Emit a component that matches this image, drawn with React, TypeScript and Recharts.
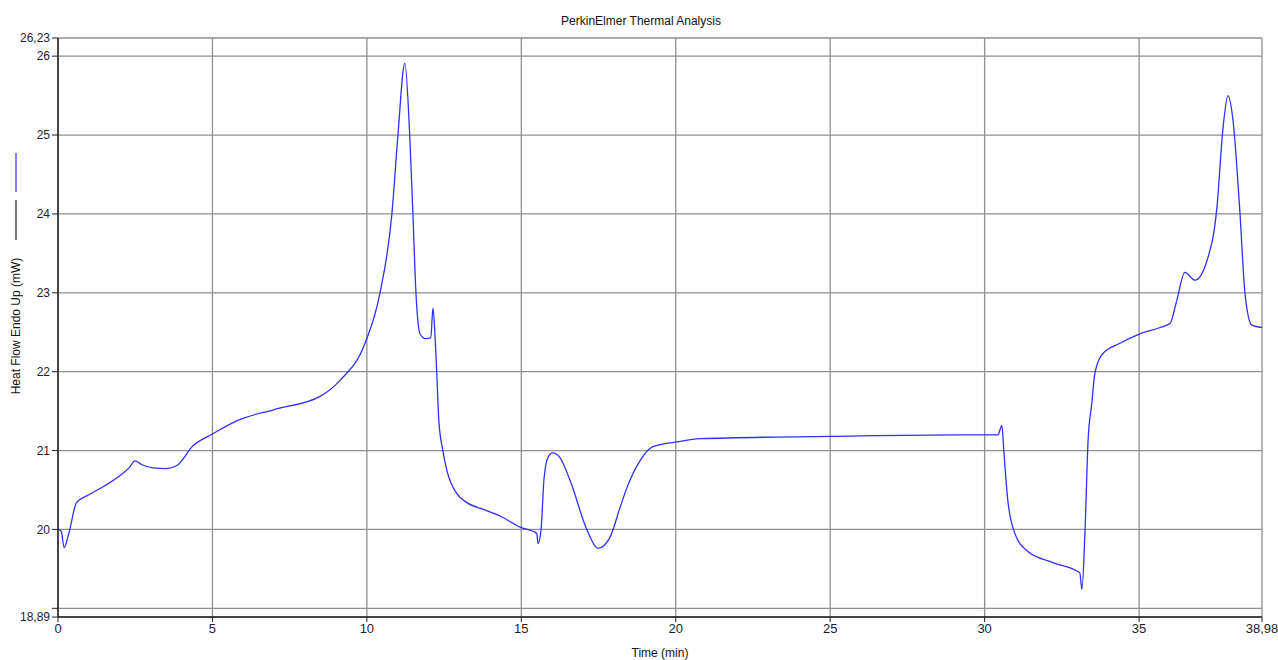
import { LineChart, Line, XAxis, YAxis, CartesianGrid } from 'recharts';

const timeMin = [
  0, 0.1, 0.2, 0.35, 0.6, 1.0, 1.5, 2.0, 2.3, 2.49, 2.72, 3.08, 3.5, 3.85, 4.37, 5.0, 5.8, 7.0, 8.5,
  9.13, 9.94, 10.42, 10.81, 11.0, 11.23, 11.39, 11.49, 11.59, 11.72, 11.88, 12.07, 12.14, 12.2, 12.25,
  12.33, 12.46, 12.59, 12.92, 13.24, 13.8, 14.31, 14.96, 15.5, 15.54, 15.64, 15.73, 15.86, 16.02, 16.25,
  16.58, 17.13, 17.48, 17.87, 18.19, 18.42, 18.84, 19.26, 20.04, 20.78, 25, 29.2, 30.43, 30.56, 30.62,
  30.75, 30.98, 31.37, 32.21, 33.08, 33.15, 33.25, 33.35, 33.47, 33.57, 33.83, 34.38, 34.97, 35.68, 36.0,
  36.22, 36.48, 36.81, 37.2, 37.52, 37.72, 37.88, 38.04, 38.26, 38.43, 38.65, 38.98,
];

const heatFlow = [
  20.0, 19.98, 19.77, 19.95, 20.34, 20.44, 20.55, 20.68, 20.78, 20.87, 20.82, 20.78, 20.77, 20.81, 21.06,
  21.21, 21.38, 21.52, 21.69, 21.89, 22.36, 22.99, 24.0, 24.97, 25.91, 24.97, 24.0, 22.99, 22.48, 22.42,
  22.43, 22.81, 22.5, 22.1, 21.38, 21.0, 20.75, 20.45, 20.34, 20.25, 20.17, 20.03, 19.95, 19.82, 20.0,
  20.62, 20.91, 20.97, 20.91, 20.62, 19.99, 19.76, 19.9, 20.27, 20.53, 20.87, 21.05, 21.11, 21.15, 21.18,
  21.2, 21.2, 21.32, 21.0, 20.37, 19.95, 19.73, 19.58, 19.45, 19.24, 19.98, 21.13, 21.6, 21.98, 22.23,
  22.36, 22.47, 22.56, 22.61, 22.9, 23.26, 23.16, 23.41, 24.08, 25.1, 25.5, 25.19, 24.05, 22.99, 22.59,
  22.56,
];

const xTicks = [0, 5, 10, 15, 20, 25, 30, 35, 38.98];
const yTicks = [18.89, 19, 20, 21, 22, 23, 24, 25, 26, 26.23];

const data = timeMin.map((t, i) => ({ t, v: heatFlow[i] }));

const fmt = (v: number) => String(v).replace('.', ',');
const font = '"Liberation Sans", Arial, sans-serif';
const tickStyle = { fill: '#1c1c2c', fontSize: 12, fontFamily: font };

// y label plus the two little legend strokes to its left-top
const YLabel = () => (
  <g>
    <line x1={16} y1={153} x2={16} y2={192} stroke="#3030ff" strokeWidth={1.2} />
    <line x1={16} y1={200} x2={16} y2={240} stroke="#222" strokeWidth={1.2} />
    <text
      x={20}
      y={326}
      transform="rotate(-90 20 326)"
      textAnchor="middle"
      fill="#111"
      fontSize={12}
      fontFamily={font}
    >
      Heat Flow Endo Up (mW)
    </text>
  </g>
);

export default function App() {
  return (
    <div style={{ position: 'absolute', left: 0, top: 0, width: 1278, height: 660, background: '#fff', overflow: 'hidden' }}>
      <div
        style={{
          position: 'absolute',
          left: 0,
          top: 14,
          width: 1278,
          textAlign: 'center',
          fontFamily: font,
          fontSize: 12,
          color: '#111',
          paddingLeft: 2,
        }}
      >
        PerkinElmer Thermal Analysis
      </div>
      <LineChart width={1278} height={660} data={data} margin={{ top: 38, right: 16, bottom: 0, left: 0 }}>
        <CartesianGrid stroke="#8f8f8f" strokeWidth={1.3} />
        <XAxis
          dataKey="t"
          type="number"
          domain={[0, 38.98]}
          ticks={xTicks}
          tickFormatter={fmt}
          height={43}
          tick={{ ...tickStyle, fontSize: 13 }}
          tickSize={5}
          axisLine={{ stroke: '#222', strokeWidth: 1.5 }}
          tickLine={{ stroke: '#222' }}
          interval={0}
          label={{ value: 'Time (min)', position: 'insideBottom', offset: 3, fill: '#111', fontSize: 12, fontFamily: font }}
        />
        <YAxis
          type="number"
          domain={[18.89, 26.23]}
          ticks={yTicks}
          tickFormatter={(v: number) => (v === 19 ? '' : fmt(v))}
          width={58}
          tick={tickStyle}
          tickSize={6}
          axisLine={{ stroke: '#222', strokeWidth: 1.5 }}
          tickLine={{ stroke: '#222' }}
          interval={0}
          label={() => <YLabel />}
        />
        <Line
          type="monotone"
          dataKey="v"
          stroke="#3030ff"
          strokeWidth={1.3}
          dot={false}
          isAnimationActive={false}
        />
      </LineChart>
    </div>
  );
}
